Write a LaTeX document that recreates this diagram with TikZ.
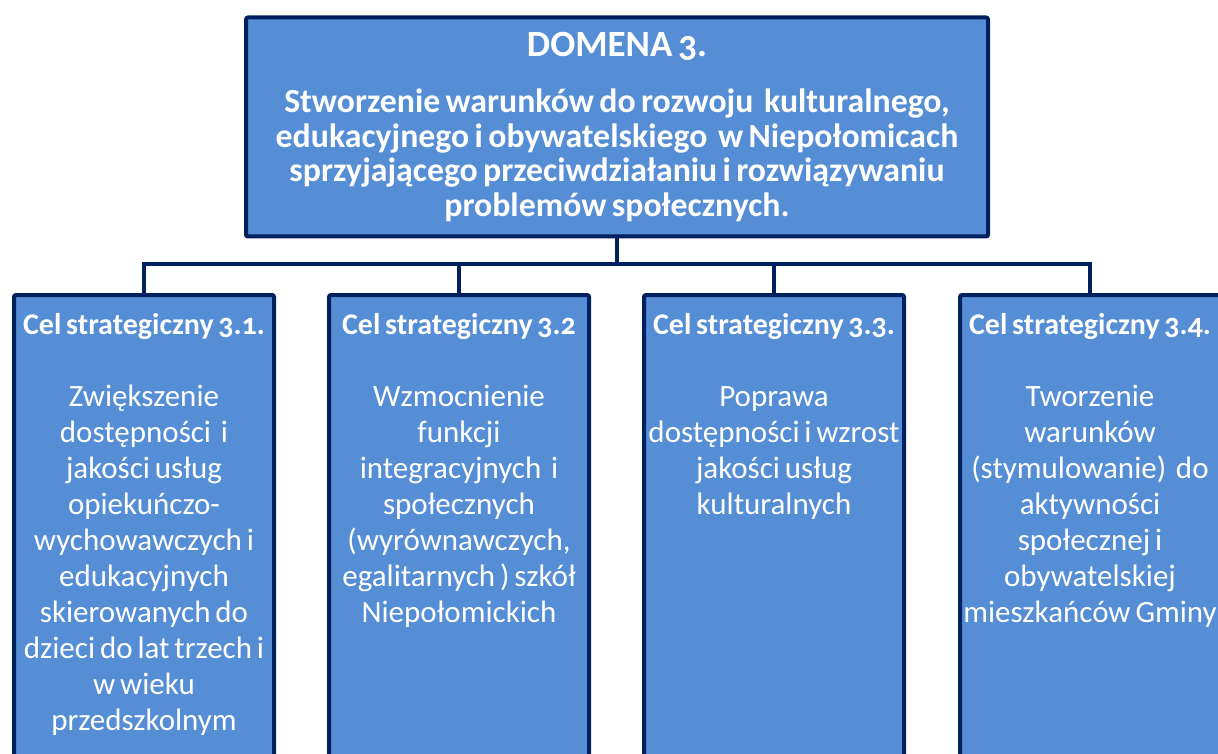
\documentclass[tikz,border=0pt]{standalone}
\usepackage{fontspec}
\setmainfont{Carlito}[Numbers=OldStyle,WordSpace=0.7]
\usetikzlibrary{positioning}
\definecolor{boxblue}{HTML}{558ED5}
\definecolor{navyline}{HTML}{002060}

\begin{document}
\begin{tikzpicture}[x=1pt,y=-1pt,
        domena-node/.style={rectangle,draw=navyline,line width=4pt,fill=boxblue,text=white,rounded corners=2pt,
            minimum width=742pt,minimum height=219pt,align=center,font=\bfseries\fontsize{33.8}{34.5}\selectfont},
        cel-node/.style={rectangle,draw=navyline,line width=4pt,fill=boxblue,rounded corners=2pt,
            minimum width=260pt,minimum height=520pt,anchor=north},
        cel-text/.style={text=white,align=flush center,text width=256pt,anchor=north,inner sep=0pt,
            font=\fontsize{31}{36}\selectfont},
        cel-head/.style={font=\bfseries\fontsize{30}{36}\selectfont},
        link/.style={draw=navyline,line width=4pt},
    ]
    \useasboundingbox (0,0) rectangle (1218,754);

    \node[domena-node] (domena) at (617,127) {{\fontsize{37}{34.5}\selectfont DOMENA 3.}\\[22pt]
        Stworzenie warunków do rozwoju\ \ kulturalnego,\\
        edukacyjnego i obywatelskiego\ \ w Niepołomicach\\
        sprzyjającego przeciwdziałaniu i rozwiązywaniu\\
        problemów społecznych.};
    \coordinate (bus) at (617,264);

    \node[cel-node] (cel1) at (144,293) {};
    \node[cel-node] (cel2) at (459,293) {};
    \node[cel-node] (cel3) at (774,293) {};
    \node[cel-node] (cel4) at (1090,293) {};

    \draw[link] (domena.south |- 0,235) -- (bus);
    \foreach \i in {1,...,4}
        \draw[link] (bus) -| (cel\i.north);

    \node[cel-text] (cel1-txt) at ([yshift=-20pt]cel1.north) {{\bfseries\fontsize{30}{36}\selectfont Cel strategiczny 3.1.}\\[36pt]
        Zwiększenie\\ dostępności\ \ i\\ jakości usług\\ opiekuńczo-\\ wychowawczych i\\ edukacyjnych\\
        skierowanych do\\ dzieci do lat trzech i\\ w wieku\\ przedszkolnym};
    \node[cel-text] (cel2-txt) at ([yshift=-20pt]cel2.north) {{\bfseries\fontsize{30}{36}\selectfont Cel strategiczny 3.2}\\[36pt]
        Wzmocnienie\\ funkcji\\ integracyjnych\ \ i\\ społecznych\\ (wyrównawczych,\\ egalitarnych ) szkół\\ Niepołomickich};
    \node[cel-text] (cel3-txt) at ([yshift=-20pt]cel3.north) {{\bfseries\fontsize{30}{36}\selectfont Cel strategiczny 3.3.}\\[36pt]
        Poprawa\\ dostępności i wzrost\\ jakości usług\\ kulturalnych};
    \node[cel-text] (cel4-txt) at ([yshift=-20pt]cel4.north) {{\bfseries\fontsize{30}{36}\selectfont Cel strategiczny 3.4.}\\[36pt]
        Tworzenie\\ warunków\\ (stymulowanie)\ \ do\\ aktywności\\ społecznej i\\ obywatelskiej\\ mieszkańców Gminy};
\end{tikzpicture}
\end{document}
